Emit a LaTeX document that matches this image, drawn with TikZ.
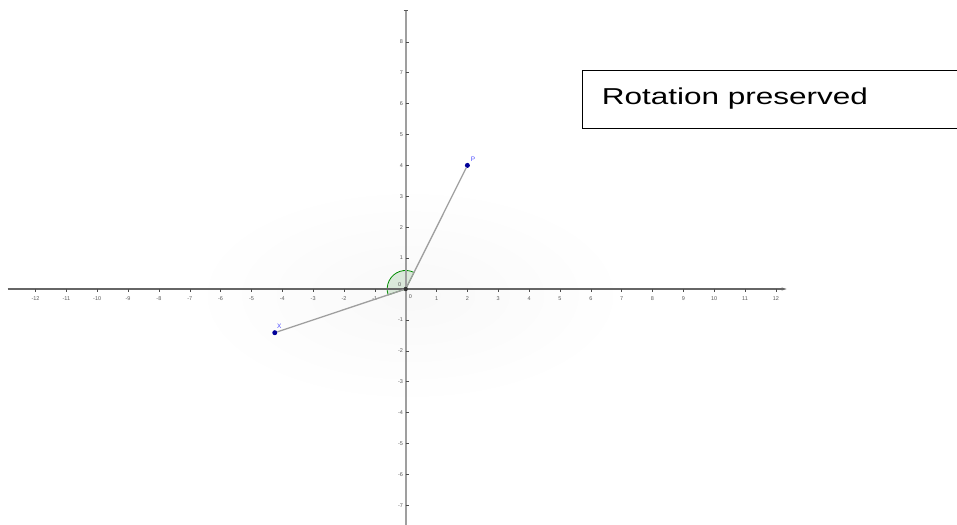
\documentclass[tikz,border=0pt]{standalone}
\usepackage{fontspec}
\setmainfont{Liberation Sans}
\usetikzlibrary{arrows.meta}
\begin{document}
\begin{tikzpicture}[x=1pt,y=-1pt,
  axis/.style={draw=gray!80!black, line width=1.1pt},
  seg/.style={draw=gray!75, line width=1.3pt},
  pt/.style={circle, fill=blue!60!black, inner sep=0pt, minimum size=5pt},
  tick/.style={font=\fontsize{5.5}{6}\selectfont, text=gray!70!black, inner sep=1pt},
  plabel/.style={font=\fontsize{6.5}{7}\selectfont, text=blue!70!white, inner sep=1pt},
  textbox/.style={draw=black, line width=0.8pt, minimum width=375pt, minimum height=58pt, inner sep=0pt}]
\useasboundingbox (0,0) rectangle (957,524);
\fill[white] (0,0) rectangle (957,524);
% faint shading
\shade[inner color=gray!5, outer color=white] (410,295) ellipse (220 and 110);
\begin{scope}[shift={(405.7,289)}, x=30.85pt, y=30.9pt]
  % angle sector
  \filldraw[fill=green!45!black, fill opacity=0.12, draw=green!55!black, line width=0.8pt]
    (0,0) -- (63.43:0.6) arc[start angle=63.43, end angle=198.43, radius=0.6] -- cycle;
  % axes
  \draw[axis, -{Stealth[length=5pt,width=3pt]}] (-12.9,0) -- (12.35,0);
  \draw[axis, line width=1.6pt, draw=gray!75] (0,-7.7) -- (0,9.0);
  \draw[gray!70!black, line width=1.2pt] (-0.07,9.0) -- (0.07,9.0);
  \foreach \i in {-12,...,-1,1,2,...,12} {
    \draw[gray!60!black, line width=0.5pt] (\i,0) -- (\i,-0.1);
    \node[tick] at (\i,-0.3) {\i};
  }
  \foreach \j in {-7,...,-1,1,2,...,8} {
    \draw[gray!60!black, line width=0.5pt] (0,\j) -- (0.1,\j);
    \node[tick, anchor=east] at (-0.05,\j) {\j};
  }
  \node[tick] at (0.15,-0.25) {0};
  \node[tick] at (-0.2,0.13) {0};
  % points
  \coordinate (O) at (0,0);
  \node[pt] (P) at (2,4) {};
  \node[pt] (X) at (-4.243,-1.414) {};
  \draw[seg] (O) -- (P);
  \draw[seg] (O) -- (X);
  \fill[black!80] (O) circle (2.2pt);
  \node[plabel] at (2.18,4.2) {P};
  \node[plabel] at (-4.1,-1.22) {X};
\end{scope}
\node[textbox, anchor=north west] (box) at (582.3,70) {};
\node[font=\fontsize{23}{28}\selectfont, anchor=base west, inner sep=0pt, xscale=1.37, transform shape] (lbl) at (601.5,104) {Rotation preserved};
\end{tikzpicture}
\end{document}
